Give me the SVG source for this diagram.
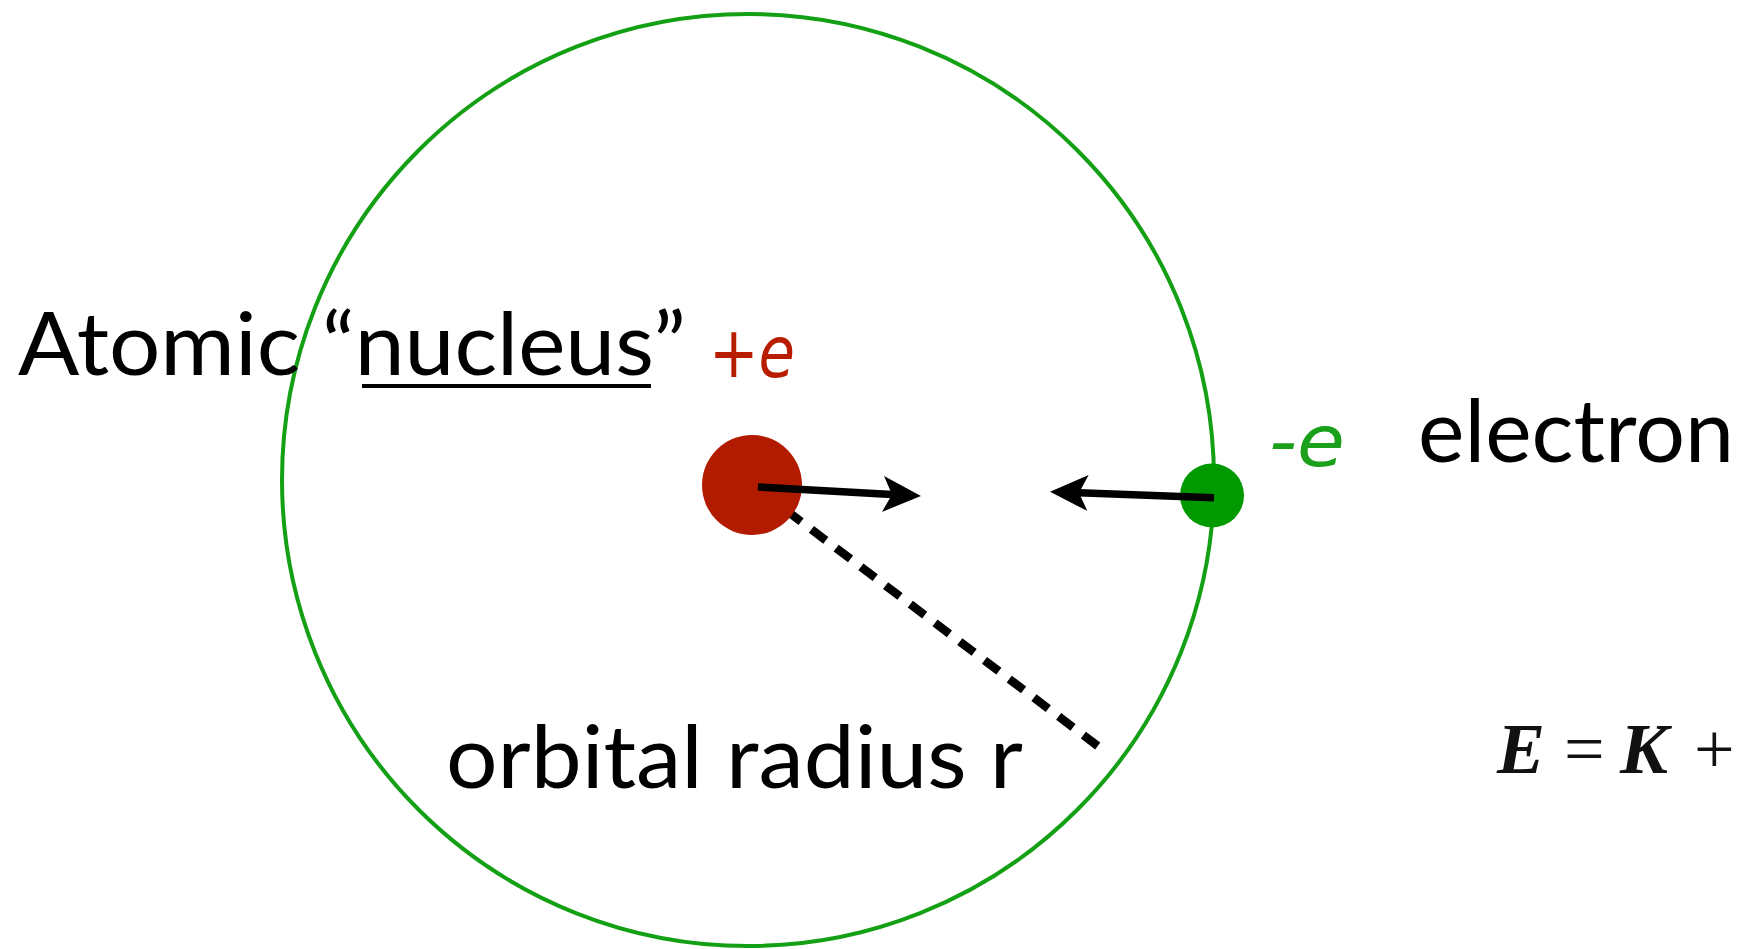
<svg xmlns="http://www.w3.org/2000/svg" width="1745" height="949" viewBox="0 0 1745 949">
<style>
.lbl{font-family:"Lato","Open Sans","DejaVu Sans",sans-serif;font-size:88px;fill:#000}
.chg{font-family:"DejaVu Sans","Liberation Sans",sans-serif;font-size:72px;font-style:italic}
.eq{font-family:"Liberation Serif","Times New Roman",serif;font-size:72px;fill:#111}
.arr{stroke:#000;stroke-width:7.5;fill:none}
</style>
<defs>
<marker id="head" markerUnits="userSpaceOnUse" viewBox="0 -19 38 38" markerWidth="38" markerHeight="38" refX="9" refY="0" orient="auto">
<path d="M0,-18 L38,0 L0,18 L9,0 Z" fill="#000"/>
</marker>
</defs>
<rect width="1745" height="949" fill="#fff"/>
<g id="orbit">
<circle cx="748" cy="480" r="466" fill="none" stroke="#14a014" stroke-width="4"/>
</g>
<g id="connectors">
<line x1="762" y1="492" x2="1107" y2="753" stroke="#000" stroke-width="8.5" stroke-dasharray="18 13"/>
</g>
<g id="nucleus">
<circle cx="752" cy="485" r="50" fill="#b31b00"/>
<text class="chg" x="709" y="377" fill="#b81d00" textLength="86" lengthAdjust="spacingAndGlyphs">+e</text>
</g>
<g id="electron">
<circle cx="1212" cy="495.5" r="32" fill="#009900"/>
<text class="chg" x="1269" y="466" fill="#1aa01a" textLength="76" lengthAdjust="spacingAndGlyphs">-e</text>
</g>
<g id="forces">
<line class="arr" x1="758" y1="487" x2="892" y2="494.4" marker-end="url(#head)"/>
<line class="arr" x1="1214" y1="497.7" x2="1079" y2="492.7" marker-end="url(#head)"/>
</g>
<g id="labels">
<text class="lbl" x="18" y="375" textLength="282" lengthAdjust="spacingAndGlyphs">Atomic</text>
<text class="lbl" x="322" y="375" textLength="364" lengthAdjust="spacingAndGlyphs">“nucleus”</text>
<line x1="362" y1="386" x2="651" y2="386" stroke="#000" stroke-width="4"/>
<text class="lbl" x="1418" y="462" textLength="316" lengthAdjust="spacingAndGlyphs">electron</text>
<text class="lbl" x="446" y="788" textLength="577" lengthAdjust="spacingAndGlyphs">orbital radius r</text>
</g>
<g id="equation">
<text class="eq" x="1497" y="773" font-weight="bold" font-style="italic">E</text>
<text class="eq" x="1564" y="773">=</text>
<text class="eq" x="1620" y="773" font-weight="bold" font-style="italic">K</text>
<text class="eq" x="1694" y="773">+</text>
</g>
</svg>
